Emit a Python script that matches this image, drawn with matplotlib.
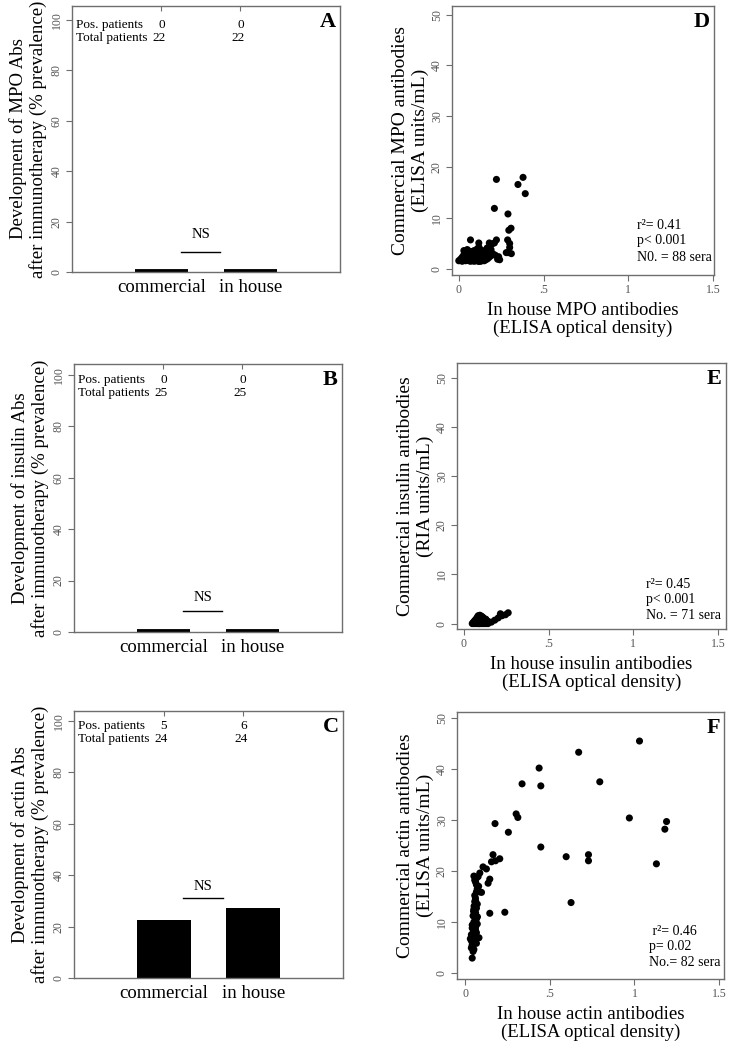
import matplotlib
matplotlib.use("Agg")
import matplotlib.pyplot as plt

plt.rcParams['font.family'] = ['Liberation Serif', 'DejaVu Serif']

W, H = 732, 1048

# ---------------- data ----------------
bar_categories = ["commercial", "in house"]
prev_mpo = [0.0, 0.0]
prev_insulin = [0.0, 0.0]
prev_actin = [22.7, 27.3]
pos_mpo = ["0", "0"]
tot_mpo = ["22", "22"]
pos_insulin = ["0", "0"]
tot_insulin = ["25", "25"]
pos_actin = ["5", "6"]
tot_actin = ["24", "24"]

mpo_x = [0.222, 0.379, 0.349, 0.392, 0.21, 0.29, 0.308, 0.295, 0.288, 0.30, 0.30, 0.29, 0.31,
         0.222, 0.21, 0.18, 0.167, 0.147, 0.069, 0.118, 0.229, 0.235, 0.215, 0.28, 0.196, 0.182, 0.241,
         0.00, 0.01, 0.02, 0.02, 0.03, 0.03, 0.04, 0.04, 0.04, 0.05, 0.05, 0.05, 0.06, 0.06, 0.06,
         0.07, 0.07, 0.07, 0.08, 0.08, 0.08, 0.09, 0.09, 0.09, 0.10, 0.10, 0.10, 0.11, 0.11, 0.11,
         0.12, 0.12, 0.12, 0.12, 0.13, 0.13, 0.13, 0.14, 0.14, 0.14, 0.15, 0.15, 0.15, 0.16, 0.16,
         0.16, 0.17, 0.17, 0.18, 0.18, 0.19, 0.19, 0.20, 0.03, 0.05, 0.02, 0.09, 0.13, 0.115, 0.07, 0.11]
mpo_y = [17.6, 18.0, 16.6, 14.8, 11.9, 10.8, 8.0, 7.6, 5.7, 5.0, 4.2, 3.2, 3.0,
         5.7, 5.1, 5.1, 4.1, 3.4, 5.7, 5.1, 1.9, 2.4, 2.7, 3.2, 4.9, 4.4, 1.8,
         1.6, 1.9, 1.7, 2.3, 2.0, 2.8, 1.6, 2.5, 3.2, 1.8, 2.2, 3.0, 1.6, 2.6, 3.5,
         2.0, 2.9, 3.4, 1.7, 2.4, 3.1, 1.9, 2.7, 3.6, 1.6, 2.2, 3.0, 1.8, 2.5, 3.3,
         1.5, 2.1, 2.9, 4.2, 1.7, 2.4, 3.1, 1.9, 2.6, 3.6, 1.6, 2.2, 3.0, 1.8, 2.5,
         3.4, 2.0, 2.8, 2.3, 3.2, 2.6, 3.8, 3.0, 3.6, 3.8, 1.5, 1.5, 1.5, 1.5, 1.5, 4.0]

ins_x = [0.262, 0.246, 0.226, 0.216, 0.203, 0.183, 0.163, 0.143,
         0.05, 0.055, 0.06, 0.06, 0.065, 0.065, 0.07, 0.07, 0.07, 0.075, 0.075, 0.075, 0.08, 0.08,
         0.08, 0.08, 0.085, 0.085, 0.085, 0.09, 0.09, 0.09, 0.09, 0.095, 0.095, 0.095, 0.10, 0.10,
         0.10, 0.10, 0.105, 0.105, 0.105, 0.11, 0.11, 0.11, 0.11, 0.115, 0.115, 0.115, 0.12, 0.12,
         0.12, 0.125, 0.125, 0.13, 0.13, 0.13, 0.135, 0.135, 0.14, 0.14, 0.06, 0.07, 0.08, 0.09,
         0.10, 0.11, 0.12, 0.085, 0.095, 0.105, 0.115]
ins_y = [2.2, 1.8, 1.6, 2.0, 1.15, 0.7, 0.3, 0.0,
         0.0, 0.2, 0.0, 0.4, 0.1, 0.6, 0.0, 0.3, 0.8, 0.2, 0.5, 1.0, 0.0, 0.4,
         0.9, 1.3, 0.2, 0.6, 1.1, 0.0, 0.3, 0.8, 1.5, 0.2, 0.6, 1.2, 0.0, 0.4,
         0.9, 1.4, 0.2, 0.7, 1.1, 0.0, 0.5, 0.9, 1.3, 0.2, 0.6, 1.0, 0.0, 0.4,
         0.8, 0.2, 0.6, 0.0, 0.4, 0.9, 0.2, 0.6, 0.1, 0.5, 0.1, 0.5, 0.1, 0.0,
         0.1, 0.1, 0.2, 1.6, 1.7, 1.5, 1.2]

act_x = [1.03, 0.67, 0.436, 0.335, 0.446, 0.795, 0.97, 1.19, 1.18, 1.13, 0.30, 0.31, 0.175,
         0.254, 0.446, 0.596, 0.728, 0.728, 0.625, 0.233, 0.144,
         0.163, 0.203, 0.154, 0.178, 0.104, 0.124, 0.085, 0.075, 0.065, 0.055, 0.144, 0.134,
         0.065, 0.078, 0.065, 0.085, 0.095, 0.059, 0.055, 0.051, 0.065, 0.048, 0.071, 0.059,
         0.051, 0.04, 0.059, 0.045, 0.035, 0.055, 0.029, 0.045, 0.04, 0.035, 0.045, 0.04,
         0.05, 0.06, 0.07, 0.055, 0.06, 0.07, 0.05, 0.06, 0.045, 0.065, 0.05, 0.07, 0.04,
         0.06, 0.05, 0.065, 0.045, 0.06, 0.035, 0.05, 0.065, 0.04, 0.05, 0.08]
act_y = [45.5, 43.3, 40.2, 37.1, 36.7, 37.5, 30.4, 29.7, 28.2, 21.4, 31.2, 30.5, 29.3,
         27.6, 24.7, 22.8, 23.2, 22.0, 13.8, 11.9, 11.7,
         23.2, 22.4, 21.8, 22.0, 20.8, 20.4, 19.6, 18.9, 18.6, 18.2, 18.4, 17.6,
         17.3, 17.0, 15.9, 15.9, 15.8, 14.7, 14.0, 13.1, 12.7, 12.1, 11.0, 10.2,
         9.3, 8.8, 8.5, 7.8, 7.5, 7.2, 6.7, 6.2, 5.5, 4.9, 4.2, 2.9,
         19.0, 17.8, 16.5, 15.2, 14.2, 13.5, 12.5, 11.8, 11.2, 10.6, 10.0, 9.6, 9.4,
         9.0, 8.2, 7.9, 7.0, 6.6, 6.3, 5.9, 5.8, 5.2, 4.6, 6.9]

fig = plt.figure(figsize=(W / 100, H / 100), dpi=100)


def add_ax(left, right, top, bottom):
    return fig.add_axes([left / W, 1 - bottom / H, (right - left) / W, (bottom - top) / H])


SPINE = '#6e6e6e'
TICKC = '#555555'


def style(ax):
    for s in ax.spines.values():
        s.set_color(SPINE)
        s.set_linewidth(1.0)


def bar_panel(ax, vals, pos, tot, letter, ylab, ytop, ns_line, ns_text):
    style(ax)
    bars = ax.bar([1, 2], vals, width=0.6, color='black', edgecolor='black', linewidth=0)
    for b, v in zip(bars, vals):
        if v == 0:
            b.set_linewidth(4.2)
    ax.set_xlim(0, 3)
    ax.set_ylim(0, ytop)
    ax.set_yticks([0, 20, 40, 60, 80, 100])
    ax.set_yticklabels(['0', '20', '40', '60', '80', '100'], rotation=90, va='center',
                       fontsize=8.5, color=TICKC)
    ax.tick_params(axis='y', length=4, color=SPINE, pad=2.5)
    ax.set_xticks([1, 2])
    ax.set_xticklabels(bar_categories, fontsize=13.5)
    ax.tick_params(axis='x', length=0, pad=5)
    sec = ax.secondary_xaxis('top')
    sec.set_xticks([1.0, 1.88])
    sec.set_xticklabels([])
    sec.tick_params(direction='in', length=3.5, color=SPINE)
    sec.spines['top'].set_visible(False)
    ax.text(0.04, 98, "Pos. patients", fontsize=9.5, va='center', ha='left')
    ax.text(0.04, 93, "Total patients", fontsize=9.5, va='center', ha='left')
    ax.text(1.0, 98, pos[0], fontsize=9.5, va='center', ha='center')
    ax.text(0.97, 93, tot[0], fontsize=9.5, va='center', ha='center')
    ax.text(1.89, 98, pos[1], fontsize=9.5, va='center', ha='center')
    ax.text(1.86, 93, tot[1], fontsize=9.5, va='center', ha='center')
    ax.plot([1.22, 1.66], [ns_line, ns_line], color='black', lw=1)
    ax.text(1.44, ns_text, "NS", fontsize=10.5, ha='center', va='center')
    ax.text(0.985, 0.94, letter, transform=ax.transAxes, fontsize=16, fontweight='bold',
            ha='right', va='center')
    ax.set_ylabel(ylab, fontsize=13.5, linespacing=1.1, labelpad=3)


def scatter_panel(ax, x, y, letter, xlab, ylab, xlim, ylim, stats, tx, ty):
    style(ax)
    ax.scatter(x, y, s=26, color='black', edgecolors='none', zorder=3)
    ax.set_xlim(*xlim)
    ax.set_ylim(*ylim)
    ax.set_xticks([0, 0.5, 1, 1.5])
    ax.set_xticklabels(['0', '.5', '1', '1.5'], fontsize=8.5, color=TICKC)
    ax.set_yticks([0, 10, 20, 30, 40, 50])
    ax.set_yticklabels(['0', '10', '20', '30', '40', '50'], rotation=90, va='center',
                       fontsize=8.5, color=TICKC)
    ax.tick_params(axis='both', length=4, color=SPINE, pad=2.5)
    for i, s in enumerate(stats):
        ax.text(tx, ty[i], s, fontsize=10, ha='left', va='center')
    ax.text(0.985, 0.94, letter, transform=ax.transAxes, fontsize=16, fontweight='bold',
            ha='right', va='center')
    ax.set_xlabel(xlab, fontsize=13.5, linespacing=1.12, labelpad=4)
    ax.set_ylabel(ylab, fontsize=14, linespacing=1.2, labelpad=1.5)


axA = add_ax(72, 340, 6, 272)
axB = add_ax(74, 342, 364, 632)
axC = add_ax(74, 343, 711, 978)
axD = add_ax(452, 714, 6, 275)
axE = add_ax(457, 726, 363, 629)
axF = add_ax(457, 724, 712, 979)

bar_panel(axA, prev_mpo, pos_mpo, tot_mpo, "A",
          "Development of MPO Abs\nafter immunotherapy (% prevalence)", 105.5, 7.8, 14.7)
bar_panel(axB, prev_insulin, pos_insulin, tot_insulin, "B",
          "Development of insulin Abs\nafter immunotherapy (% prevalence)", 104.2, 8.2, 13.3)
bar_panel(axC, prev_actin, pos_actin, tot_actin, "C",
          "Development of actin Abs\nafter immunotherapy (% prevalence)", 103.9, 31.0, 35.8)

scatter_panel(axD, mpo_x, mpo_y, "D", "In house MPO antibodies\n(ELISA optical density)",
              "Commercial MPO antibodies\n(ELISA units/mL)", (-0.04, 1.505), (-1.2, 51.7),
              ["r²= 0.41", "p< 0.001", "N0. = 88 sera"], 1.05, [8.45, 5.56, 2.3])
scatter_panel(axE, ins_x, ins_y, "E", "In house insulin antibodies\n(ELISA optical density)",
              "Commercial insulin antibodies\n(RIA units/mL)", (-0.04, 1.547), (-1.1, 53.0),
              ["r²= 0.45", "p< 0.001", "No. = 71 sera"], 1.074, [7.9, 4.86, 1.62])
scatter_panel(axF, act_x, act_y, "F", "In house actin antibodies\n(ELISA optical density)",
              "Commercial actin antibodies\n(ELISA units/mL)", (-0.05, 1.53), (-1.2, 51.2),
              [" r²= 0.46", "p= 0.02", "No.= 82 sera"], 1.086, [8.2, 5.1, 1.96])

fig.savefig("out.png", dpi=100)
